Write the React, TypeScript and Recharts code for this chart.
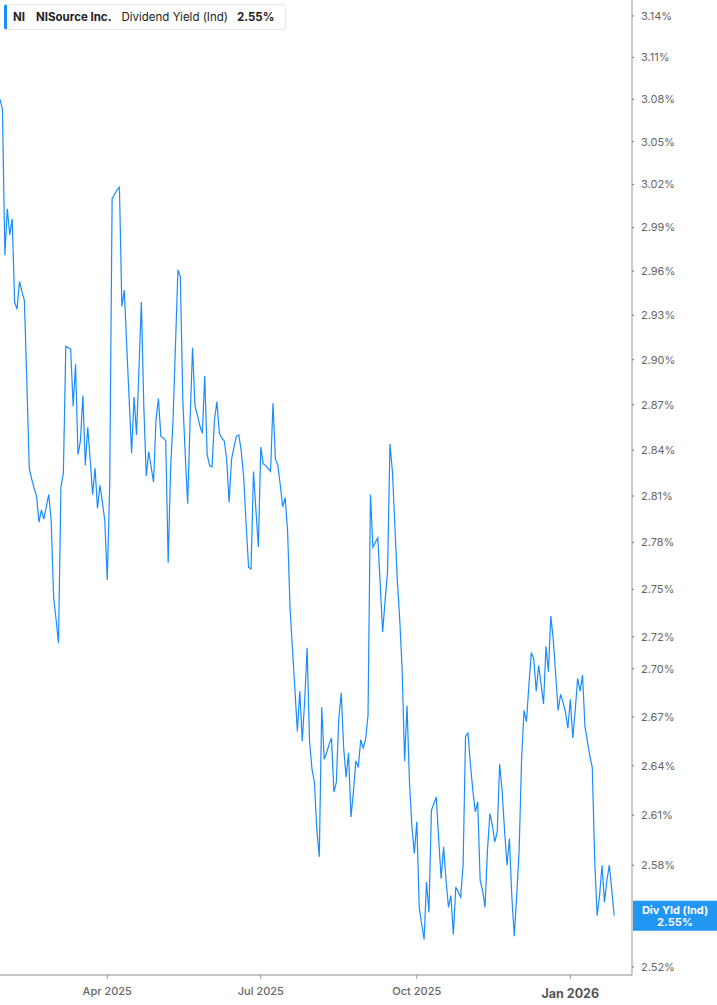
import { LineChart, Line, XAxis, YAxis, ReferenceLine } from 'recharts';

// daily indicated dividend yield (%), one value per trading day, late Jan 2025 -> late Jan 2026
const yieldValues = [
  3.080, 3.073, 2.971, 3.003, 2.985, 2.996, 2.939, 2.934, 2.953, 2.946,
  2.940, 2.886, 2.828, 2.821, 2.815, 2.810, 2.793, 2.801, 2.795, 2.803,
  2.811, 2.794, 2.745, 2.731, 2.716, 2.816, 2.825, 2.909, 2.908, 2.907,
  2.869, 2.897, 2.837, 2.846, 2.876, 2.830, 2.855, 2.834, 2.811, 2.828,
  2.802, 2.817, 2.806, 2.794, 2.756, 2.816, 3.010, 3.013, 3.016, 3.018,
  2.936, 2.947, 2.909, 2.873, 2.838, 2.875, 2.850, 2.893, 2.939, 2.869,
  2.823, 2.839, 2.829, 2.819, 2.860, 2.874, 2.849, 2.848, 2.846, 2.767,
  2.828, 2.860, 2.910, 2.961, 2.956, 2.873, 2.837, 2.805, 2.860, 2.908,
  2.869, 2.863, 2.856, 2.851, 2.889, 2.837, 2.830, 2.829, 2.860, 2.872,
  2.851, 2.848, 2.846, 2.834, 2.806, 2.834, 2.842, 2.849, 2.850, 2.839,
  2.822, 2.791, 2.764, 2.763, 2.826, 2.801, 2.777, 2.842, 2.831, 2.830,
  2.828, 2.826, 2.871, 2.834, 2.830, 2.817, 2.803, 2.809, 2.787, 2.738,
  2.712, 2.687, 2.661, 2.686, 2.655, 2.680, 2.713, 2.655, 2.638, 2.630,
  2.601, 2.585, 2.676, 2.644, 2.648, 2.653, 2.657, 2.624, 2.630, 2.669,
  2.685, 2.651, 2.633, 2.648, 2.609, 2.624, 2.643, 2.639, 2.656, 2.651,
  2.656, 2.671, 2.811, 2.777, 2.780, 2.783, 2.753, 2.723, 2.743, 2.761,
  2.844, 2.826, 2.791, 2.756, 2.731, 2.699, 2.643, 2.677, 2.630, 2.603,
  2.587, 2.606, 2.555, 2.545, 2.536, 2.570, 2.552, 2.613, 2.617, 2.621,
  2.595, 2.572, 2.591, 2.571, 2.555, 2.562, 2.539, 2.567, 2.564, 2.561,
  2.580, 2.658, 2.660, 2.641, 2.625, 2.612, 2.618, 2.571, 2.565, 2.555,
  2.589, 2.611, 2.604, 2.594, 2.600, 2.641, 2.625, 2.601, 2.580, 2.596,
  2.561, 2.538, 2.562, 2.589, 2.644, 2.674, 2.667, 2.690, 2.710, 2.706,
  2.686, 2.702, 2.690, 2.678, 2.714, 2.698, 2.733, 2.718, 2.696, 2.674,
  2.684, 2.679, 2.673, 2.663, 2.681, 2.657, 2.674, 2.694, 2.686, 2.696,
  2.664, 2.655, 2.646, 2.639, 2.583, 2.550, 2.562, 2.580, 2.558, 2.571,
  2.580, 2.565, 2.550,
];

// trading-day index of the first session of each labelled month
const xTickIdx = [44, 107, 171, 234];
const xTickLabels = ['Apr 2025', 'Jul 2025', 'Oct 2025', 'Jan 2026'];

// 2.55% sits under the last-value tag, so it is left out
const yTicks = [
  3.14, 3.11, 3.08, 3.05, 3.02, 2.99, 2.96, 2.93, 2.9, 2.87, 2.84,
  2.81, 2.78, 2.75, 2.72, 2.7, 2.67, 2.64, 2.61, 2.58, 2.52,
];

const ticker = 'NI';
const company = 'NISource Inc.';
const metric = 'Dividend Yield (Ind)';
const tagName = 'Div Yld (Ind)';

const BLUE = '#1a8cff';
const TAG_BLUE = '#2196f3';
const FONT = 'Inter, "Open Sans", sans-serif';

const data = yieldValues.map((v, i) => ({ i, v }));
const lastValue = yieldValues[yieldValues.length - 1];

const XTick = ({ x, y, payload }: any) => {
  const k = xTickIdx.indexOf(payload.value);
  const label = xTickLabels[k] ?? '';
  const isYear = label.startsWith('Jan');
  return (
    <text
      x={x}
      y={y}
      dy={isYear ? 17 : 14}
      textAnchor="middle"
      fontSize={isYear ? 12.5 : 11}
      fontWeight={isYear ? 700 : 500}
      fill={isYear ? '#555' : '#666'}
      fontFamily={FONT}
    >
      {label}
    </text>
  );
};

const EndTag = ({ viewBox }: any) => {
  if (!viewBox) return null;
  const left = viewBox.x + viewBox.width + 1;
  const y = viewBox.y;
  return (
    <g>
      <rect x={left} y={y - 15} width={84} height={30} fill={TAG_BLUE} />
      <text x={left + 42} y={y - 2} textAnchor="middle" fill="#fff" fontSize={11} fontWeight={700} fontFamily={FONT}>
        {tagName}
      </text>
      <text x={left + 42} y={y + 10} textAnchor="middle" fill="#fff" fontSize={11} fontWeight={700} fontFamily={FONT}>
        {lastValue.toFixed(2)}%
      </text>
    </g>
  );
};

export default function App() {
  return (
    <div style={{ position: 'absolute', left: 0, top: 0, width: 717, height: 1005, background: '#fff' }}>
      <LineChart width={717} height={1005} data={data} margin={{ top: 0, right: 0, bottom: 0, left: 0 }}>
        <XAxis
          dataKey="i"
          type="number"
          domain={[0, 259.3]}
          ticks={xTickIdx}
          height={30}
          tick={<XTick />}
          tickSize={4}
          tickMargin={2}
          axisLine={{ stroke: '#b4b4b4', strokeWidth: 1.5 }}
          tickLine={{ stroke: '#999' }}
          allowDataOverflow
        />
        <YAxis
          orientation="right"
          scale="log"
          domain={[2.5153, 3.1516]}
          allowDataOverflow
          ticks={yTicks}
          width={85}
          tickSize={2}
          tickMargin={7}
          tickFormatter={(v: number) => `${v.toFixed(2)}%`}
          tick={{ fontSize: 11, fill: '#666', fontFamily: FONT }}
          axisLine={{ stroke: '#999' }}
          tickLine={{ stroke: '#777' }}
        />
        <Line
          type="linear"
          dataKey="v"
          stroke={BLUE}
          strokeWidth={1.2}
          dot={false}
          activeDot={false}
          isAnimationActive={false}
        />
        <ReferenceLine
          y={lastValue}
          stroke="none"
          ifOverflow="visible"
          label={{ content: (p: any) => <EndTag viewBox={p.viewBox} /> }}
        />
      </LineChart>
      <div
        style={{
          position: 'absolute',
          left: 4,
          top: 4,
          width: 282,
          height: 26,
          boxSizing: 'border-box',
          border: '1px solid #e8e8e8',
          borderLeft: `3px solid ${BLUE}`,
          borderRadius: 3,
          background: '#fff',
          display: 'flex',
          alignItems: 'center',
          fontFamily: FONT,
          fontSize: 11.5,
          color: '#222',
          whiteSpace: 'nowrap',
        }}
      >
        <span style={{ fontWeight: 700, marginLeft: 6 }}>{ticker}</span>
        <span style={{ fontWeight: 700, marginLeft: 11 }}>{company}</span>
        <span style={{ marginLeft: 10 }}>{metric}</span>
        <span style={{ fontWeight: 700, marginLeft: 9 }}>{lastValue.toFixed(2)}%</span>
      </div>
    </div>
  );
}
